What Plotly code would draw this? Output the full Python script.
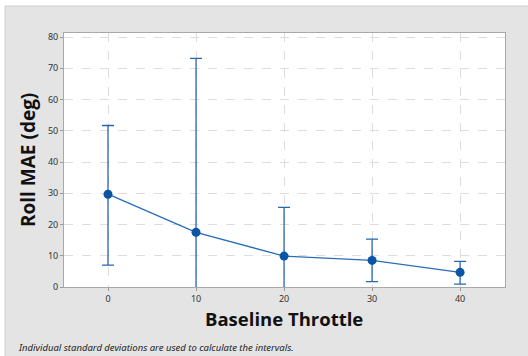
import plotly.graph_objects as go

throttle = [0, 10, 20, 30, 40]
mae_mean = [29.7, 17.5, 9.9, 8.5, 4.7]
ci_upper = [51.7, 73.2, 25.5, 15.3, 8.2]
ci_lower = [7.0, -38.2, -5.7, 1.7, 0.9]

err_plus = [u - m for u, m in zip(ci_upper, mae_mean)]
err_minus = [m - l for m, l in zip(mae_mean, ci_lower)]

W, H = 528, 356
L, R, T, B = 64, 23, 33, 69
pw, ph = W - L - R, H - T - B

def px_x(x):
    return (x - L) / pw

def px_y(y):
    return (H - B - y) / ph

fig = go.Figure()
fig.add_trace(go.Scatter(
    x=throttle, y=mae_mean, mode="lines+markers",
    line=dict(color="#2a6cb8", width=1.3),
    marker=dict(color="#0a55a5", size=9),
    error_y=dict(type="data", symmetric=False, array=err_plus, arrayminus=err_minus,
                 color="#2a66b0", thickness=1.3, width=6),
    showlegend=False,
))

fig.update_layout(
    width=W, height=H,
    margin=dict(l=L, r=R, t=T, b=B),
    paper_bgcolor="#e4e4e4",
    plot_bgcolor="white",
    font=dict(family="Noto Sans, Open Sans, sans-serif", color="#333333", size=9),
    shapes=[
        dict(type="rect", xref="paper", yref="paper", layer="below",
             x0=px_x(0), x1=px_x(528), y0=px_y(6), y1=px_y(0),
             fillcolor="white", line=dict(width=0)),
        dict(type="rect", xref="paper", yref="paper", layer="below",
             x0=px_x(0), x1=px_x(5), y0=px_y(356), y1=px_y(0),
             fillcolor="white", line=dict(width=0)),
        dict(type="line", xref="paper", yref="paper", layer="below",
             x0=px_x(5), x1=px_x(528), y0=px_y(6), y1=px_y(6),
             line=dict(color="#cfcfcf", width=1)),
        dict(type="line", xref="paper", yref="paper", layer="below",
             x0=px_x(5), x1=px_x(5), y0=px_y(356), y1=px_y(6),
             line=dict(color="#cfcfcf", width=1)),
    ],
    annotations=[
        dict(text="Roll MAE (deg)", xref="paper", yref="paper", x=px_x(28), y=px_y(160),
             textangle=-90, showarrow=False, font=dict(size=19, color="#111111", family="Open Sans, sans-serif", weight="bold"),
             xanchor="center", yanchor="middle"),
        dict(text="Baseline Throttle", xref="paper", yref="paper", x=px_x(284), y=px_y(318),
             showarrow=False, font=dict(size=18.5, color="#111111", family="Open Sans, sans-serif", weight="bold"),
             xanchor="center", yanchor="middle"),
        dict(text="<i>Individual standard deviations are used to calculate the intervals.</i>",
             xref="paper", yref="paper", x=px_x(16), y=px_y(347), showarrow=False,
             font=dict(size=9.5, color="#222222"), xanchor="left", yanchor="middle"),
    ],
)

fig.update_xaxes(
    range=[-5, 45.1], tickvals=throttle, ticks="outside", ticklen=3, tickcolor="#999999",
    showgrid=True, gridcolor="#dddddd", griddash="dash", gridwidth=1,
    showline=True, linecolor="#a8a8a8", linewidth=1, mirror=True, zeroline=False,
    tickfont=dict(size=9, color="#333333"),
)
fig.update_yaxes(
    range=[0, 81.3], tickvals=[0, 10, 20, 30, 40, 50, 60, 70, 80], ticks="outside", ticklen=3,
    tickcolor="#999999",
    showgrid=True, gridcolor="#dddddd", griddash="dash", gridwidth=1,
    showline=True, linecolor="#a8a8a8", linewidth=1, mirror=True, zeroline=False,
    tickfont=dict(size=9, color="#333333"),
)

fig.write_html("out.html")
